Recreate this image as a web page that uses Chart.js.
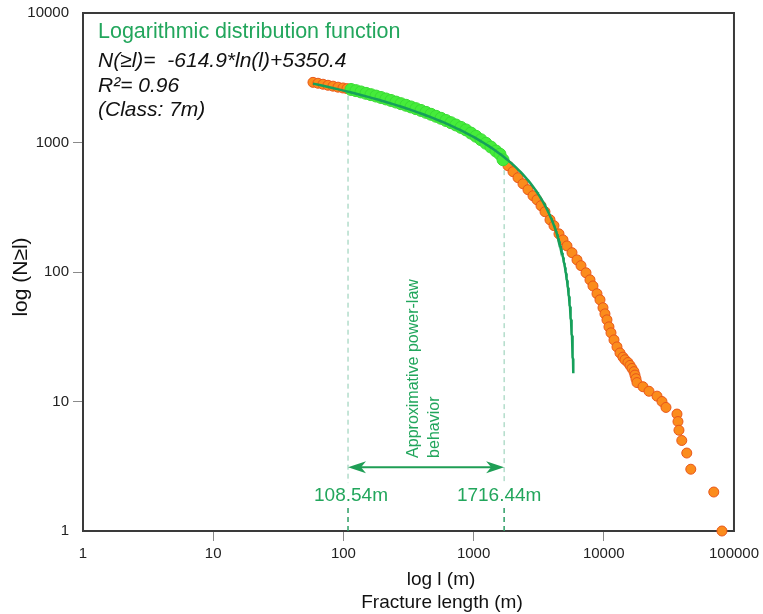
<!DOCTYPE html>
<html>
<head>
<meta charset="utf-8">
<script src="https://cdn.jsdelivr.net/npm/chart.js@4.4.1/dist/chart.umd.min.js"></script>
<style>
  html, body { margin: 0; padding: 0; background: #fff; }
  #wrap { width: 763px; height: 614px; }
</style>
</head>
<body>
<div id="wrap"><canvas id="chart" width="763" height="614"></canvas></div>
<script>
// fracture length (m) and cumulative count N(>=l)
const lengths = [
  58.4, 63.8, 69.7, 76.1, 83.2, 90.9, 99.3, 106.6,
  114.4, 125.0, 136.5, 149.1, 162.9, 178.0, 194.5, 212.5, 232.1, 253.5,
  277.0, 302.6, 330.6, 361.1, 394.5, 430.9, 470.8, 514.3, 561.9, 613.8,
  670.6, 732.6, 800.3, 874.3, 955.0, 1043, 1140, 1245, 1360, 1486, 1595,
  1683, 1837, 2007, 2193, 2395, 2617, 2859, 3069, 3294, 3535, 3862, 4145,
  4529, 4861, 5217, 5700, 6228, 6684, 7302, 7834, 8262, 8868, 9350, 9860,
  10210, 10580, 10960, 11360, 11980, 12630, 13320,
  14040, 14550, 15340, 15900, 16470, 17060, 17360, 17670, 17990, 20010,
  22250, 25630, 27990, 30040, 36490, 37140, 37800, 39720, 43400, 46590,
  69970, 80850
];
const counts = [
  2914, 2868, 2818, 2767, 2723, 2675, 2637, 2605,
  2568, 2514, 2457, 2396, 2341, 2284, 2227, 2169, 2112, 2052,
  1994, 1939, 1881, 1825, 1768, 1709, 1652, 1594, 1538, 1479,
  1422, 1365, 1308, 1251, 1182, 1117, 1051, 986, 922, 859, 812,
  736, 662, 595, 535, 480, 432, 388, 361, 325, 292, 253, 228,
  197, 177, 159, 141, 124, 112, 98.6, 87, 78, 68, 61, 53,
  47.5, 42.7, 37.7, 33.9, 29.9, 26.4, 23.7,
  22, 21, 20, 19, 18, 17, 16, 15, 14, 13,
  12, 11, 10, 9, 8, 7, 6, 5, 4, 3,
  2, 1
];

const xTicks = [1, 10, 100, 1000, 10000, 100000];
const yTicks = [1, 10, 100, 1000, 10000];

// logarithmic fit  N(>=l) = fitA*ln(l) + fitB
const fitA = -614.9;
const fitB = 5350.4;
const fitStart = 58.4;      // first length of the drawn fit
const fitEndCount = 16.5;   // where the drawn fit stops

// power-law window
const rangeLow = 108.54;
const rangeHigh = 1716.44;

const GREEN_TXT = '#22a65c';
const FONT = '"Liberation Sans", Arial, sans-serif';

const orangePts = [], greenPts = [];
lengths.forEach(function (l, i) {
  const p = { x: l, y: counts[i] };
  if (l >= rangeLow && l <= rangeHigh) greenPts.push(p); else orangePts.push(p);
});

const fitPts = [];
const nTop = fitA * Math.log(fitStart) + fitB;
for (let k = 0; k <= 200; k++) {
  const n = Math.exp(Math.log(nTop) + (Math.log(fitEndCount) - Math.log(nTop)) * k / 200);
  fitPts.push({ x: Math.exp((n - fitB) / fitA), y: n });
}

function fitAt(l) { return fitA * Math.log(l) + fitB; }

const overlay = {
  id: 'overlay',
  beforeDatasetsDraw(chart) {
    const { ctx, chartArea: a, scales } = chart;
    const xs = scales.x, ys = scales.y;
    ctx.save();
    // frame
    ctx.strokeStyle = '#3a3a3a';
    ctx.lineWidth = 2;
    ctx.strokeRect(a.left, a.top, a.right - a.left, a.bottom - a.top);

    // dashed guides
    const labelY = ys.getPixelForValue(1.86);
    [rangeLow, rangeHigh].forEach(function (v) {
      const px = xs.getPixelForValue(v);
      const top = ys.getPixelForValue(fitAt(v)) + 4;
      ctx.setLineDash([5, 4]);
      ctx.lineWidth = 1;
      ctx.strokeStyle = '#8ccbb0';
      ctx.beginPath();
      ctx.moveTo(px, top);
      ctx.lineTo(px, labelY - 13);
      ctx.stroke();
      ctx.strokeStyle = '#2e9e66';
      ctx.lineWidth = 1.5;
      ctx.beginPath();
      ctx.moveTo(px, labelY + 12);
      ctx.lineTo(px, a.bottom);
      ctx.stroke();
    });
    ctx.restore();
  },
  afterDatasetsDraw(chart) {
    const { ctx, chartArea: a, scales } = chart;
    const xs = scales.x, ys = scales.y;
    ctx.save();

    // header texts
    ctx.textAlign = 'left';
    ctx.textBaseline = 'alphabetic';
    ctx.fillStyle = GREEN_TXT;
    ctx.font = '21.5px ' + FONT;
    ctx.fillText('Logarithmic distribution function', 98, 38);
    ctx.fillStyle = '#111';
    ctx.font = 'italic 21px ' + FONT;
    ctx.fillText('N(\u2265l)=  -614.9*ln(l)+5350.4', 98, 67);
    ctx.fillText('R\u00b2= 0.96', 98, 92);
    ctx.fillText('(Class: 7m)', 98, 116);

    // arrow between the two guides
    const x1 = xs.getPixelForValue(rangeLow), x2 = xs.getPixelForValue(rangeHigh);
    const ay = ys.getPixelForValue(3.1);
    ctx.strokeStyle = '#1f9e55';
    ctx.fillStyle = '#1f9e55';
    ctx.lineWidth = 2;
    ctx.beginPath();
    ctx.moveTo(x1 + 8, ay);
    ctx.lineTo(x2 - 8, ay);
    ctx.stroke();
    [[x1, 1], [x2, -1]].forEach(function (h) {
      ctx.beginPath();
      ctx.moveTo(h[0], ay);
      ctx.lineTo(h[0] + h[1] * 18, ay - 6);
      ctx.lineTo(h[0] + h[1] * 13, ay);
      ctx.lineTo(h[0] + h[1] * 18, ay + 6);
      ctx.closePath();
      ctx.fill();
    });

    // range labels
    const labelY = ys.getPixelForValue(1.86);
    ctx.fillStyle = GREEN_TXT;
    ctx.font = '19px ' + FONT;
    ctx.textAlign = 'center';
    ctx.textBaseline = 'middle';
    ctx.fillText('108.54m', x1 + 3, labelY);
    ctx.fillText('1716.44m', x2 - 5, labelY);

    // vertical note
    const mid = (x1 + x2) / 2;
    ctx.save();
    ctx.translate(mid - 12, ys.getPixelForValue(3.67));
    ctx.rotate(-Math.PI / 2);
    ctx.textAlign = 'left';
    ctx.font = '16px ' + FONT;
    ctx.fillText('Approximative power-law', 0, 0);
    ctx.fillText('behavior', 0, 21);
    ctx.restore();

    // axis titles
    ctx.fillStyle = '#111';
    ctx.textAlign = 'center';
    ctx.textBaseline = 'middle';
    ctx.font = '19px ' + FONT;
    ctx.fillText('log l (m)', 441, 580);
    ctx.fillText('Fracture length (m)', 442, 603);
    ctx.save();
    ctx.translate(21, (a.top + a.bottom) / 2 + 5);
    ctx.rotate(-Math.PI / 2);
    ctx.font = '21px ' + FONT;
    ctx.fillText('log (N\u2265l)', 0, 0);
    ctx.restore();

    ctx.restore();
  }
};

function edgeless(ctx) {
  const n = ctx.chart.scales[ctx.scale.id].ticks.length;
  return (ctx.index === 0 || ctx.index === n - 1) ? 'rgba(0,0,0,0)' : '#8a8a8a';
}

new Chart(document.getElementById('chart'), {
  type: 'scatter',
  data: {
    datasets: [
      {
        type: 'line',
        label: 'fit',
        data: fitPts,
        borderColor: '#16a05a',
        borderWidth: 2.5,
        pointRadius: 0,
        tension: 0,
        fill: false
      },
      {
        label: 'power-law range',
        data: greenPts,
        backgroundColor: '#45ec3a',
        borderColor: '#3ada34',
        borderWidth: 1,
        pointRadius: 6,
        clip: false
      },
      {
        label: 'all fractures',
        data: orangePts,
        backgroundColor: '#fb8c1c',
        borderColor: '#e8561a',
        borderWidth: 1,
        pointRadius: 5,
        clip: false
      }
    ]
  },
  options: {
    responsive: false,
    animation: false,
    layout: { padding: { top: 13, right: 27, left: 0, bottom: 0 } },
    plugins: { legend: { display: false }, tooltip: { enabled: false } },
    scales: {
      x: {
        type: 'logarithmic',
        min: 1,
        max: 100000,
        afterBuildTicks: function (s) { s.ticks = xTicks.map(function (v) { return { value: v }; }); },
        afterFit: function (s) { s.height = 83; },
        ticks: {
          autoSkip: false,
          maxRotation: 0,
          padding: 4,
          color: '#222',
          font: { size: 15, family: FONT },
          callback: function (v) { return String(v); }
        },
        grid: { drawOnChartArea: false, tickLength: 10, color: edgeless },
        border: { display: false }
      },
      y: {
        type: 'logarithmic',
        min: 1,
        max: 10000,
        afterBuildTicks: function (s) { s.ticks = yTicks.map(function (v) { return { value: v }; }); },
        afterFit: function (s) { s.width = 83; },
        ticks: {
          padding: 4,
          color: '#222',
          font: { size: 15, family: FONT },
          callback: function (v) { return String(v); }
        },
        grid: { drawOnChartArea: false, tickLength: 10, color: edgeless },
        border: { display: false }
      }
    }
  },
  plugins: [overlay]
});
</script>
</body>
</html>
